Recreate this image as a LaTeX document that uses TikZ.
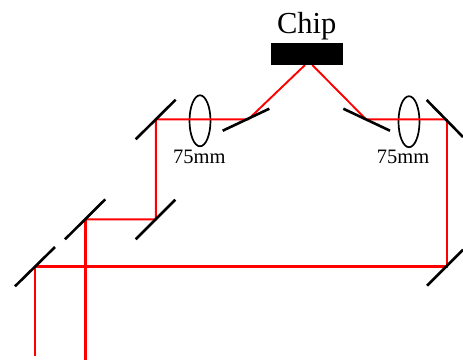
\documentclass[tikz,border=0pt]{standalone}
\usepackage{fontspec}
\setmainfont{Liberation Serif}
\definecolor{beamred}{RGB}{255,0,0}
\tikzset{
  beam/.style={draw=beamred,line width=1.9pt},
  beamthick/.style={draw=beamred,line width=2.4pt},
  mirror/.style={draw=black,line width=2.6pt},
  lens/.style={draw=black,line width=1.7pt,ellipse,minimum width=21pt,minimum height=51pt,inner sep=0pt},
  chipbox/.style={fill=black,draw=none,minimum width=72pt,minimum height=22.3pt,inner sep=0pt},
}
\usetikzlibrary{shapes.geometric}
\begin{document}
\begin{tikzpicture}[x=1pt,y=-1pt]
\useasboundingbox (0,0) rectangle (463,360);
% beam corner points
\coordinate (chipL) at (305,65);
\coordinate (chipR) at (312.3,65);
\coordinate (foldL) at (248.3,119.3);
\coordinate (foldR) at (366,119.3);
\coordinate (cornerTL) at (155.8,119.3);
\coordinate (cornerTR) at (446.7,119.3);
\coordinate (cornerBR) at (446.7,266.3);
\coordinate (cornerC) at (155.8,219.3);
\coordinate (cornerB) at (85.3,219.3);
\coordinate (cornerA) at (35,266.3);
\coordinate (exitB) at (85.3,360);
\coordinate (exitA) at (35,355.7);
% lenses
\node[lens] (lensL) at (200,120.8) {};
\node[lens] (lensR) at (409,121.7) {};
% beams
\draw[beam] (chipL) -- (foldL) -- (cornerTL) -- (cornerC) -- (cornerB);
\draw[beam] (chipR) -- (foldR) -- (cornerTR);
\draw[beamthick] (cornerTR) -- (cornerBR) -- (cornerA);
\draw[beam] (cornerA) -- (exitA);
\draw[beamthick] (cornerB) -- (exitB);
% chip
\node[chipbox] (chip) at (307.3,53.8) {};
\node[font=\fontsize{30.5}{30.5}\selectfont,inner sep=0pt,anchor=base] (chiplabel) at (306.8,33) {Chip};
\node[font=\fontsize{20.5}{20.5}\selectfont,inner sep=0pt,anchor=base] (labelL) at (199.3,163) {75mm};
\node[font=\fontsize{20.5}{20.5}\selectfont,inner sep=0pt,anchor=base] (labelR) at (403,163) {75mm};
% mirrors
\draw[mirror] (135.7,139.3) -- (175.7,99.7);
\draw[mirror] (222.7,130.7) -- (269.3,108.7);
\draw[mirror] (343.3,108.7) -- (390,130.7);
\draw[mirror] (426.7,100) -- (463,137);
\draw[mirror] (427,285.7) -- (463,249.7);
\draw[mirror] (15,286.3) -- (55,247);
\draw[mirror] (65,239.3) -- (105.3,199.3);
\draw[mirror] (135.7,239.3) -- (175.3,199.7);
\end{tikzpicture}
\end{document}
